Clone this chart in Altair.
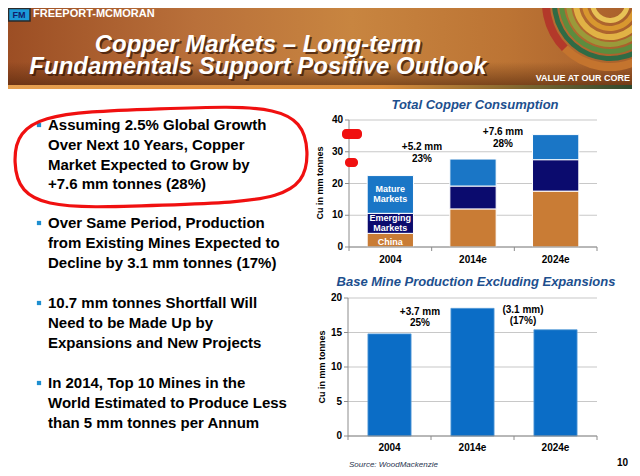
import math
import altair as alt
import pandas as pd

# ---------------- data ----------------
years = ["2004", "2014e", "2024e"]
segments = ["China", "Emerging Markets", "Mature Markets"]
seg_labels = [["China"], ["Emerging", "Markets"], ["Mature", "Markets"]]
seg_colors = ["#C97C35", "#0B0B6E", "#1A76C6"]
china = [4.3, 12.0, 17.6]
emerging = [6.3, 7.2, 9.9]
mature = [11.9, 8.5, 7.9]
top_ticks = [0, 10, 20, 30, 40]

base_prod = [14.8, 18.5, 15.4]
bottom_ticks = [0, 5, 10, 15, 20]

top_notes = [["+5.2 mm", "23%"], ["+7.6 mm", "28%"]]
bottom_notes = [["+3.7 mm", "25%"], ["(3.1 mm)", "(17%)"]]

bullets = [
    ["Assuming 2.5% Global Growth", "Over Next 10 Years, Copper",
     "Market Expected to Grow by", "+7.6 mm tonnes (28%)"],
    ["Over Same Period, Production", "from Existing Mines Expected to",
     "Decline by 3.1 mm tonnes (17%)"],
    ["10.7 mm tonnes Shortfall Will", "Need to be Made Up by",
     "Expansions and New Projects"],
    ["In 2014, Top 10 Mines in the", "World Estimated to Produce Less",
     "than 5 mm tonnes per Annum"],
]

title_lines = ["Copper Markets \u2013 Long-term", "Fundamentals Support Positive Outlook"]
top_title = "Total Copper Consumption"
bottom_title = "Base Mine Production Excluding Expansions"
y_title = "Cu in mm tonnes"
source_text = "Source:  WoodMackenzie"
page_no = "10"

# ---------------- layout helpers ----------------
W, H = 624, 460


def X(v):  # screen px -> chart px
    return v - 8


def Y(v):
    return v - 8


one = pd.DataFrame({"k": [0]})
FONT = "Liberation Sans"
layers = []

# ---------------- header ----------------
hdr_grad = alt.Gradient(
    gradient="linear", x1=0, x2=1, y1=0, y2=0,
    stops=[alt.GradientStop(color="#9C4E24", offset=0),
           alt.GradientStop(color="#B9703A", offset=0.3),
           alt.GradientStop(color="#C88540", offset=0.55),
           alt.GradientStop(color="#BC7434", offset=0.8),
           alt.GradientStop(color="#A9602C", offset=1)])
layers.append(alt.Chart(one).mark_rect(color=hdr_grad).encode(
    x=alt.value(0), x2=alt.value(W), y=alt.value(0), y2=alt.value(Y(85))))
shade = alt.Gradient(
    gradient="linear", x1=0, x2=0, y1=0, y2=1,
    stops=[alt.GradientStop(color="rgba(70,30,8,0)", offset=0),
           alt.GradientStop(color="rgba(70,30,8,0)", offset=0.7),
           alt.GradientStop(color="rgba(70,30,8,0.55)", offset=1)])
layers.append(alt.Chart(one).mark_rect(color=shade).encode(
    x=alt.value(0), x2=alt.value(W), y=alt.value(0), y2=alt.value(Y(85))))
line_grad = alt.Gradient(
    gradient="linear", x1=0, x2=1, y1=0, y2=0,
    stops=[alt.GradientStop(color="#E6A050", offset=0),
           alt.GradientStop(color="#D98C3C", offset=0.6),
           alt.GradientStop(color="#8A6A30", offset=0.8),
           alt.GradientStop(color="#2E4A30", offset=1)])
layers.append(alt.Chart(one).mark_rect(color=line_grad).encode(
    x=alt.value(0), x2=alt.value(W), y=alt.value(Y(85)), y2=alt.value(Y(89))))

# concentric arcs (decoration, top right)
arcs = [
    (60, 68, 0.85, 1.25, "#C4742E"),
    (60, 68, 1.25, 1.62, "#B3392A"),
    (53, 58, 0.7, 1.55, "#2F6B45"),
    (46, 51, 0.6, 1.52, "#5D8C3E"),
    (39, 44, 0.55, 1.6, "#9A9A3A"),
    (31, 37, 0.5, 1.65, "#E1B245"),
    (23, 28, 0.5, 1.72, "#D8972F"),
    (15, 20, 0.5, 1.8, "#E8C256"),
]
for r1, r2, t1, t2, c in arcs:
    layers.append(alt.Chart(one).mark_arc(
        radius=r2, radius2=r1, theta=t1 * math.pi, theta2=t2 * math.pi, color=c
    ).encode(x=alt.value(X(610)), y=alt.value(Y(3))))

# logo + company name
layers.append(alt.Chart(one).mark_rect(color="#1C9AD8", stroke="#2A2A2A", strokeWidth=1.5).encode(
    x=alt.value(0.5), x2=alt.value(22), y=alt.value(0.5), y2=alt.value(13)))
layers.append(alt.Chart(one).mark_text(font=FONT, fontWeight="bold", fontSize=9, color="#10206A").encode(
    text=alt.value("FM"), x=alt.value(11), y=alt.value(7)))
layers.append(alt.Chart(one).mark_text(font=FONT, fontWeight="bold", fontSize=11, color="white",
                                        align="left", baseline="middle").encode(
    text=alt.value("FREEPORT-MCMORAN"), x=alt.value(25), y=alt.value(6)))

# title with shadow
for i, (line, yb) in enumerate(zip(title_lines, [Y(51.5), Y(73.5)])):
    layers.append(alt.Chart(one).mark_text(
        font=FONT, fontWeight="bold", fontStyle="italic", fontSize=24, color="#3A1806",
        opacity=0.75, baseline="alphabetic", align="center").encode(
        text=alt.value(line), x=alt.value(X(258) + 2), y=alt.value(yb + 2)))
    layers.append(alt.Chart(one).mark_text(
        font=FONT, fontWeight="bold", fontStyle="italic", fontSize=24, color="white",
        baseline="alphabetic", align="center").encode(
        text=alt.value(line), x=alt.value(X(258)), y=alt.value(yb)))

layers.append(alt.Chart(one).mark_text(font=FONT, fontWeight="bold", fontSize=9, color="white",
                                        align="right", baseline="middle").encode(
    text=alt.value("VALUE AT OUR CORE"), x=alt.value(W - 2), y=alt.value(Y(78))))

# ---------------- bullets ----------------
bullet_first_center = [125, 223, 303, 383]
for lines, yc in zip(bullets, bullet_first_center):
    layers.append(alt.Chart(one).mark_square(size=18, color="#1E8FD0", opacity=1).encode(
        x=alt.value(X(39)), y=alt.value(Y(yc))))
    layers.append(alt.Chart(one).mark_text(
        font=FONT, fontWeight="bold", fontSize=15, color="black", align="left",
        baseline="alphabetic", lineHeight=19.6).encode(
        text=alt.value(lines), x=alt.value(X(48)), y=alt.value(Y(yc + 5.4))))

# red hand-drawn loop (flattened ellipse)
loop = ("M -1 0 C -1 -0.33 -0.72 -0.33 0 -0.33 C 0.72 -0.33 1 -0.33 1 0 "
        "C 1 0.33 0.72 0.33 0 0.33 C -0.72 0.33 -1 0.33 -1 0 Z")
layers.append(alt.Chart(one).mark_point(
    shape=loop, size=292 ** 2, filled=False, stroke="#F01010", strokeWidth=3.2,
    opacity=1, angle=358).encode(x=alt.value(X(161)), y=alt.value(Y(157))))

# ---------------- top chart ----------------
xs_top = alt.Scale(domain=years, range=[X(349), X(597)], paddingInner=0.44, paddingOuter=0.22)
ys_top = alt.Scale(domain=[0, 40], range=[Y(247), Y(120)], nice=False)

cons = pd.DataFrame({
    "year": years * 3,
    "segment": [s for s in segments for _ in years],
    "value": china + emerging + mature,
    "ord": [i for i in range(3) for _ in years],
})

tt = pd.DataFrame({"v": top_ticks})
layers.append(alt.Chart(tt).mark_rule(color="#C8C8C8", strokeWidth=1.2).encode(
    y=alt.Y("v:Q", scale=ys_top, axis=None), x=alt.value(X(349)), x2=alt.value(X(597))))
layers.append(alt.Chart(cons).mark_bar(stroke="white", strokeWidth=1).encode(
    x=alt.X("year:N", scale=xs_top, axis=None),
    y=alt.Y("value:Q", stack="zero", scale=ys_top, axis=None),
    color=alt.Color("segment:N", scale=alt.Scale(domain=segments, range=seg_colors), legend=None),
    order=alt.Order("ord:Q"),
))
# axis lines, ticks, labels
layers.append(alt.Chart(one).mark_rule(color="#8C8C8C", strokeWidth=1).encode(
    x=alt.value(X(349)), y=alt.Y(datum=0, type="quantitative", scale=ys_top, axis=None),
    y2=alt.Y2(datum=40)))
layers.append(alt.Chart(one).mark_rule(color="#8C8C8C", strokeWidth=1).encode(
    y=alt.Y(datum=0, type="quantitative", scale=ys_top, axis=None),
    x=alt.value(X(349)), x2=alt.value(X(597))))
layers.append(alt.Chart(tt).mark_rule(color="#8C8C8C", strokeWidth=1).encode(
    y=alt.Y("v:Q", scale=ys_top, axis=None), x=alt.value(X(345)), x2=alt.value(X(349))))
for i in range(4):
    xb = X(349) + i * (X(597) - X(349)) / 3
    layers.append(alt.Chart(one).mark_rule(color="#8C8C8C", strokeWidth=1).encode(
        x=alt.value(xb), y=alt.value(Y(247)), y2=alt.value(Y(251))))
layers.append(alt.Chart(tt).mark_text(font=FONT, fontWeight="bold", fontSize=10, align="right",
                                       baseline="middle", color="black").encode(
    y=alt.Y("v:Q", scale=ys_top, axis=None), x=alt.value(X(343)), text="v:Q"))
layers.append(alt.Chart(pd.DataFrame({"year": years})).mark_text(
    font=FONT, fontWeight="bold", fontSize=10, baseline="middle", color="black").encode(
    x=alt.X("year:N", scale=xs_top, axis=None), y=alt.value(Y(260)), text="year:N"))

# in-bar labels for first bar (multi-line blocks shifted up by half a line)
c0, e0, m0 = china[0], emerging[0], mature[0]
seg_lab = pd.DataFrame({
    "year": [years[0]] * 3,
    "mid": [c0 / 2, c0 + e0 / 2, c0 + e0 + m0 / 2],
    "lab": seg_labels,
    "n": [len(s) for s in seg_labels],
})
for n in sorted(set(seg_lab["n"])):
    layers.append(alt.Chart(seg_lab[seg_lab["n"] == n]).mark_text(
        font=FONT, fontWeight="bold", fontSize=9, color="white", baseline="middle",
        lineHeight=10, dy=-(n - 1) * 5 + (1.5 if n == 1 else 0)).encode(
        x=alt.X("year:N", scale=xs_top, axis=None),
        y=alt.Y("mid:Q", scale=ys_top, axis=None), text="lab"))

for note, (nx, ny, lh) in zip(top_notes, [(422, 147, 12), (503, 132, 11.5)]):
    layers.append(alt.Chart(one).mark_text(font=FONT, fontWeight="bold", fontSize=10, color="black",
                                            baseline="middle", lineHeight=lh).encode(
        text=alt.value(note), x=alt.value(X(nx)), y=alt.value(Y(ny))))

layers.append(alt.Chart(one).mark_text(font=FONT, fontWeight="bold", fontStyle="italic", fontSize=13,
                                        color="#1D4F8E", baseline="middle").encode(
    text=alt.value(top_title), x=alt.value(X(475)), y=alt.value(Y(105))))
layers.append(alt.Chart(one).mark_text(font=FONT, fontWeight="bold", fontSize=9, color="black",
                                        baseline="middle", angle=270).encode(
    text=alt.value(y_title), x=alt.value(X(320)), y=alt.value(Y(183))))

# red smudges near the top chart axis
for x1, x2, y1, y2 in [(342, 362, 129, 139), (345, 358, 158, 167)]:
    layers.append(alt.Chart(one).mark_rect(color="#F01010", cornerRadius=4).encode(
        x=alt.value(X(x1)), x2=alt.value(X(x2)), y=alt.value(Y(y1)), y2=alt.value(Y(y2))))

# ---------------- bottom chart ----------------
xs_bot = alt.Scale(domain=years, range=[X(348), X(597)], paddingInner=0.48, paddingOuter=0.24)
ys_bot = alt.Scale(domain=[0, 20], range=[Y(436), Y(298)], nice=False)
bt = pd.DataFrame({"v": bottom_ticks})
prod = pd.DataFrame({"year": years, "value": base_prod})

layers.append(alt.Chart(bt).mark_rule(color="#C8C8C8", strokeWidth=1.2).encode(
    y=alt.Y("v:Q", scale=ys_bot, axis=None), x=alt.value(X(348)), x2=alt.value(X(597))))
layers.append(alt.Chart(prod).mark_bar(color="#0B6DC6", stroke="#5C9ED8", strokeWidth=0.8).encode(
    x=alt.X("year:N", scale=xs_bot, axis=None),
    y=alt.Y("value:Q", scale=ys_bot, axis=None)))
layers.append(alt.Chart(one).mark_rule(color="#8C8C8C", strokeWidth=1).encode(
    x=alt.value(X(348)), y=alt.Y(datum=0, type="quantitative", scale=ys_bot, axis=None),
    y2=alt.Y2(datum=20)))
layers.append(alt.Chart(one).mark_rule(color="#8C8C8C", strokeWidth=1).encode(
    y=alt.Y(datum=0, type="quantitative", scale=ys_bot, axis=None),
    x=alt.value(X(348)), x2=alt.value(X(597))))
layers.append(alt.Chart(bt).mark_rule(color="#8C8C8C", strokeWidth=1).encode(
    y=alt.Y("v:Q", scale=ys_bot, axis=None), x=alt.value(X(344)), x2=alt.value(X(348))))
for i in range(4):
    xb = X(348) + i * (X(597) - X(348)) / 3
    layers.append(alt.Chart(one).mark_rule(color="#8C8C8C", strokeWidth=1).encode(
        x=alt.value(xb), y=alt.value(Y(436)), y2=alt.value(Y(440))))
layers.append(alt.Chart(bt).mark_text(font=FONT, fontWeight="bold", fontSize=10, align="right",
                                       baseline="middle", color="black").encode(
    y=alt.Y("v:Q", scale=ys_bot, axis=None), x=alt.value(X(342)), text="v:Q"))
layers.append(alt.Chart(pd.DataFrame({"year": years})).mark_text(
    font=FONT, fontWeight="bold", fontSize=10, baseline="middle", color="black").encode(
    x=alt.X("year:N", scale=xs_bot, axis=None), y=alt.value(Y(448)), text="year:N"))

for note, (nx, ny, lh) in zip(bottom_notes, [(420, 312, 11), (523, 310, 11)]):
    layers.append(alt.Chart(one).mark_text(font=FONT, fontWeight="bold", fontSize=10, color="black",
                                            baseline="middle", lineHeight=lh).encode(
        text=alt.value(note), x=alt.value(X(nx)), y=alt.value(Y(ny))))

layers.append(alt.Chart(one).mark_text(font=FONT, fontWeight="bold", fontStyle="italic", fontSize=13,
                                        color="#1D4F8E", baseline="middle").encode(
    text=alt.value(bottom_title), x=alt.value(X(476)), y=alt.value(Y(282))))
layers.append(alt.Chart(one).mark_text(font=FONT, fontWeight="bold", fontSize=9, color="black",
                                        baseline="middle", angle=270).encode(
    text=alt.value(y_title), x=alt.value(X(322)), y=alt.value(Y(367))))

layers.append(alt.Chart(one).mark_text(font=FONT, fontStyle="italic", fontSize=8, color="#2A3550",
                                        align="left", baseline="middle").encode(
    text=alt.value(source_text), x=alt.value(X(349)), y=alt.value(Y(465))))
layers.append(alt.Chart(one).mark_text(font=FONT, fontWeight="bold", fontSize=10, color="black",
                                        align="right", baseline="middle").encode(
    text=alt.value(page_no), x=alt.value(W - 4), y=alt.value(Y(463))))

chart = alt.layer(*layers).resolve_scale(
    x="independent", y="independent", color="independent"
).properties(
    width=W, height=H, padding=0, autosize=alt.AutoSizeParams(type="none"), background="white"
).configure_view(stroke=None)

chart.save("out.html", embed_options={"renderer": "svg", "actions": False})
